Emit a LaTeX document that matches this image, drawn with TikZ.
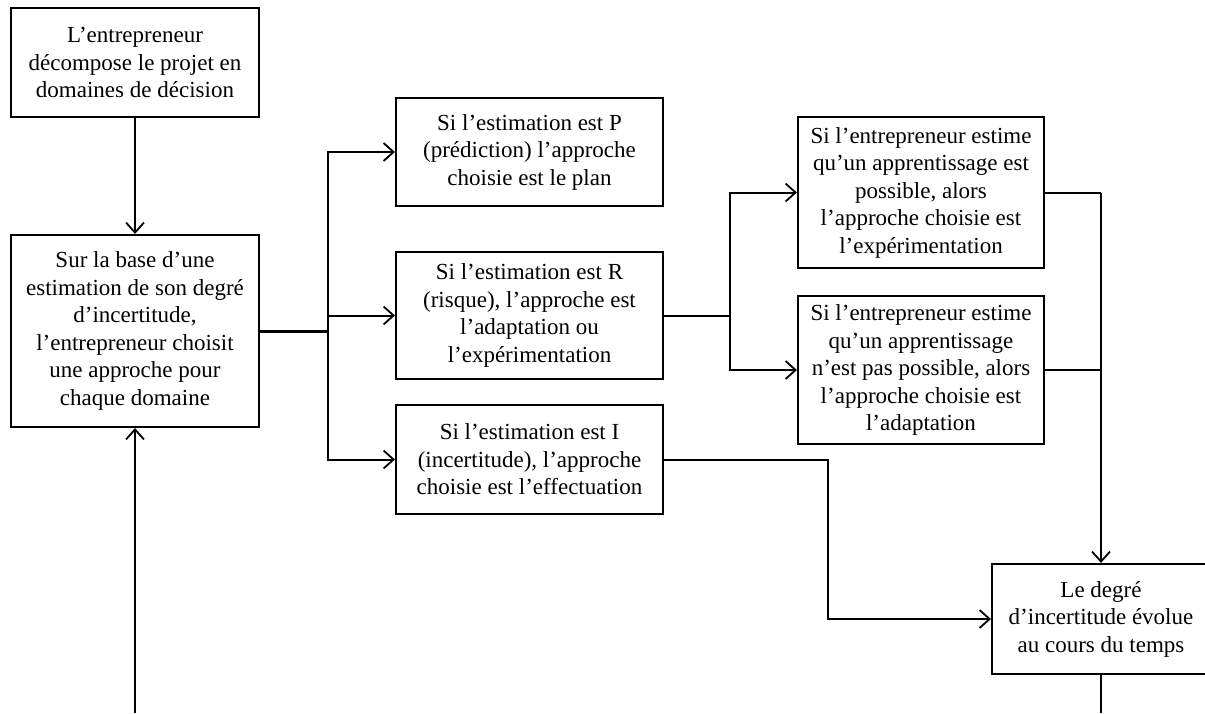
\documentclass[tikz,border=0pt]{standalone}
\usepackage{fontspec}
\setmainfont{Liberation Serif}
\usetikzlibrary{arrows.meta}
\begin{document}
\begin{tikzpicture}[x=1pt,y=-1pt,
  box/.style={draw,line width=2.2pt,align=center,inner sep=0pt,font=\fontsize{23}{27.5}\selectfont},
  conn/.style={line width=2pt},
  arr/.style={conn,-{Straight Barb[length=10pt,width=18pt,line width=1.8pt]}}]
\useasboundingbox (0,0) rectangle (1205,713);
\node[box,minimum width=248pt,minimum height=109pt] (b1) at (135,62.5)
  {L’entrepreneur\\décompose le projet en\\domaines de décision};
\node[box,minimum width=248pt,minimum height=192pt] (b2) at (135,331)
  {Sur la base d’une\\estimation de son degré\\d’incertitude,\\l’entrepreneur choisit\\une approche pour\\chaque domaine};
\node[box,minimum width=267pt,minimum height=108pt] (P) at (529.5,152)
  {Si l’estimation est P\\(prédiction) l’approche\\choisie est le plan};
\node[box,minimum width=267pt,minimum height=127pt] (R) at (529.5,315.5)
  {Si l’estimation est R\\(risque), l’approche est\\l’adaptation ou\\l’expérimentation};
\node[box,minimum width=267pt,minimum height=109pt] (I) at (529.5,459.5)
  {Si l’estimation est I\\(incertitude), l’approche\\choisie est l’effectuation};
\node[box,minimum width=246pt,minimum height=151pt] (E) at (921,192.5)
  {Si l’entrepreneur estime\\qu’un apprentissage est\\possible, alors\\l’approche choisie est\\l’expérimentation};
\node[box,minimum width=246pt,minimum height=148pt] (A) at (921,370)
  {Si l’entrepreneur estime\\qu’un apprentissage\\n’est pas possible, alors\\l’approche choisie est\\l’adaptation};
\node[box,minimum width=218pt,minimum height=110pt] (T) at (1101,619)
  {Le degré\\d’incertitude évolue\\au cours du temps};
\coordinate (j1) at (328,331);
\coordinate (j2) at (730,315.5);
\coordinate (j3) at (1101,192.5);
\coordinate (k1) at (828,459.5);
\coordinate (bl) at (135,713);
\coordinate (br) at (1101,713);
\draw[arr] (b1) -- (b2);
\draw[line width=3pt] (b2.east) -- (j1);
\draw[arr] (j1) |- (P.west);
\draw[arr] (j1) |- (R.west);
\draw[arr] (j1) |- (I.west);
\draw[conn] (R.east) -- (j2);
\draw[arr] (j2) |- (E.west);
\draw[arr] (j2) |- (A.west);
\draw[conn] (E.east) -- (j3);
\draw[conn] (A.east) -- (A.east -| j3);
\draw[arr] (j3) -- (T.north);
\draw[arr] (I.east) -- (k1) |- (T.west);
\draw[conn] (T.south) -- (br);
\draw[arr,line width=2.4pt] (bl) -- (b2.south);
\end{tikzpicture}
\end{document}
